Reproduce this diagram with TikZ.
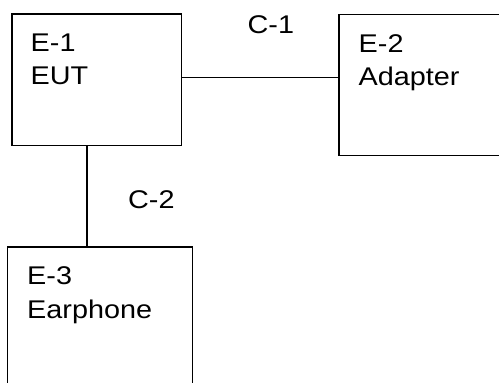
\documentclass[tikz,border=0pt]{standalone}
\usepackage{fontspec}
\setmainfont{Liberation Sans}[FakeStretch=1.125]
\begin{document}
\begin{tikzpicture}[x=1pt,y=1pt,
    unit/.style={draw,line width=1.6pt,fill=white,inner sep=0pt},
    tag/.style={anchor=north west,inner sep=0pt,align=left,font=\fontsize{25.6}{33.3}\selectfont}]
        \useasboundingbox[fill=white] (0,0) rectangle (499,383);
        \node[unit,minimum width=169.5pt,minimum height=131.7pt] (eut) at (96.75,303.15) {};
        \node[unit,minimum width=180pt,minimum height=141.2pt] (adapter) at (429,297.9) {};
        \node[unit,minimum width=185pt,minimum height=153pt] (earphone) at (99.8,59.5) {};
        \draw[line width=1.6pt] ([yshift=2.5pt]eut.east) -- ([yshift=2.5pt]eut.east -| adapter.west);
        \draw[line width=1.6pt] ([xshift=-9.5pt]eut.south) -- ([xshift=-9.5pt]eut.south |- earphone.north);
        \node[tag] (eutlabel) at (30.5,349.7) {E-1\\EUT};
        \node[tag] (adapterlabel) at (358.5,348.7) {E-2\\Adapter};
        \node[tag] (earphonelabel) at (27,116.3) {E-3\\Earphone};
        \node[tag] (cableone) at (247.5,367.7) {C-1};
        \node[tag] (cabletwo) at (128,192.3) {C-2};
    \end{tikzpicture}
\end{document}
